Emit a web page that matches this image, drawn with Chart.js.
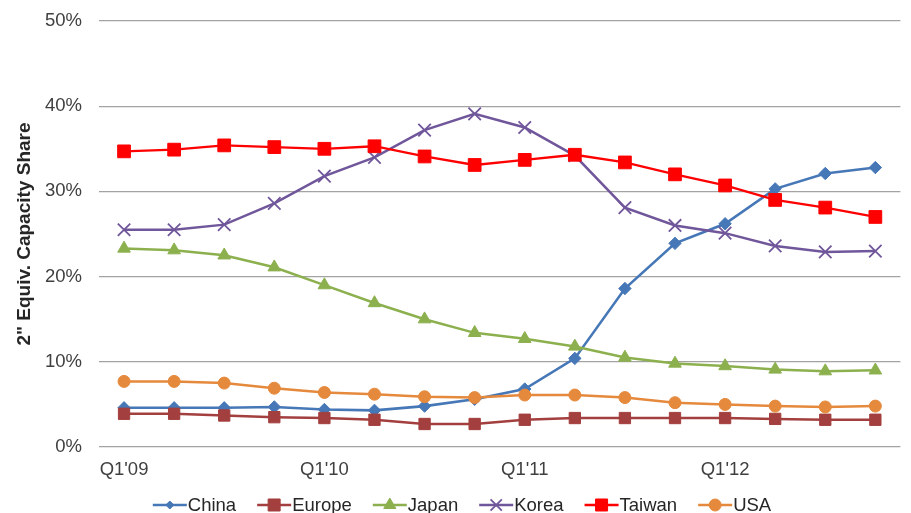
<!DOCTYPE html>
<html>
<head>
<meta charset="utf-8">
<script src="https://cdn.jsdelivr.net/npm/chart.js@4/dist/chart.umd.min.js"></script>
<style>
  html, body { margin: 0; padding: 0; background: #ffffff; }
  #wrap { width: 911px; height: 513px; position: relative; }
  canvas { display: block; }
</style>
</head>
<body>
<div id="wrap"><canvas id="c" width="911" height="513"></canvas></div>
<script>
// Quarterly share of 2" equivalent capacity by region (%)
const quarters = ["Q1'09", "Q2'09", "Q3'09", "Q4'09",
                  "Q1'10", "Q2'10", "Q3'10", "Q4'10",
                  "Q1'11", "Q2'11", "Q3'11", "Q4'11",
                  "Q1'12", "Q2'12", "Q3'12", "Q4'12"];

const china  = [4.6, 4.6, 4.6, 4.7, 4.4, 4.3, 4.8, 5.6, 6.8, 10.4, 18.6, 23.9, 26.2, 30.3, 32.1, 32.8];
const europe = [3.9, 3.9, 3.7, 3.5, 3.4, 3.2, 2.7, 2.7, 3.2, 3.4, 3.4, 3.4, 3.4, 3.3, 3.2, 3.2];
const japan  = [23.3, 23.1, 22.5, 21.1, 19.0, 16.9, 15.0, 13.4, 12.7, 11.8, 10.5, 9.8, 9.5, 9.1, 8.9, 9.0];
const korea  = [25.5, 25.5, 26.1, 28.6, 31.8, 34.0, 37.2, 39.1, 37.5, 34.2, 28.1, 26.0, 25.1, 23.6, 22.9, 23.0];
const taiwan = [34.7, 34.9, 35.4, 35.2, 35.0, 35.3, 34.1, 33.1, 33.7, 34.3, 33.4, 32.0, 30.7, 29.0, 28.1, 27.0];
const usa    = [7.7, 7.7, 7.5, 6.9, 6.4, 6.2, 5.9, 5.8, 6.1, 6.1, 5.8, 5.2, 5.0, 4.8, 4.7, 4.8];

const yTicks = [0, 10, 20, 30, 40, 50];
const yTitle = '2" Equiv. Capacity Share';

const FONT = '"Liberation Sans", Arial, Helvetica, sans-serif';

function series(label, data, color, style, radius, legendRadius, width, order) {
  return {
    label, data, order,
    borderColor: color,
    backgroundColor: color,
    borderWidth: width,
    pointStyle: style,
    pointRadius: radius,
    pointHoverRadius: radius,
    pointBackgroundColor: color,
    pointBorderColor: color,
    pointBorderWidth: style === 'crossRot' ? 1.8 : 1,
    legendRadius,
    tension: 0,
    fill: false
  };
}

// Legend drawn along the bottom: short line with the series marker, then the name
const seriesLegend = {
  id: 'seriesLegend',
  afterDraw(chart) {
    const ctx = chart.ctx;
    const lineY = 505;
    const baseY = 510.5;
    const lineLen = 34;
    const textGap = 1;
    const itemGap = 21;
    const centerX = 462;
    ctx.save();
    ctx.font = '18.5px ' + FONT;
    ctx.textBaseline = 'alphabetic';
    ctx.textAlign = 'left';
    const sets = chart.data.datasets;
    const widths = sets.map(ds => ctx.measureText(ds.label).width);
    const total = widths.reduce((a, w) => a + lineLen + textGap + w, 0) + itemGap * (sets.length - 1);
    let x = centerX - total / 2;
    sets.forEach((ds, i) => {
      ctx.strokeStyle = ds.borderColor;
      ctx.lineWidth = ds.borderWidth;
      ctx.beginPath();
      ctx.moveTo(x, lineY);
      ctx.lineTo(x + lineLen, lineY);
      ctx.stroke();
      ctx.fillStyle = ds.pointBackgroundColor;
      ctx.strokeStyle = ds.pointBorderColor;
      ctx.lineWidth = ds.pointBorderWidth;
      Chart.helpers.drawPoint(ctx, {
        pointStyle: ds.pointStyle,
        radius: ds.legendRadius,
        borderWidth: ds.pointBorderWidth,
        rotation: 0
      }, x + lineLen / 2, lineY);
      ctx.fillStyle = '#262626';
      ctx.fillText(ds.label, x + lineLen + textGap, baseY);
      x += lineLen + textGap + widths[i] + itemGap;
    });
    ctx.restore();
  }
};

new Chart(document.getElementById('c'), {
  type: 'line',
  data: {
    labels: quarters,
    datasets: [
      series('China',  china,  '#4677B6', 'rectRot',  6.2, 4,   2.6, 6),
      series('Europe', europe, '#A33F3E', 'rect',     8,   8.5, 2.5, 5),
      series('Japan',  japan,  '#8CB04E', 'triangle', 7.3, 7,   2.5, 4),
      series('Korea',  korea,  '#70569A', 'crossRot', 8.8, 8,   2.5, 3),
      series('Taiwan', taiwan, '#FF0000', 'rect',     9,   8.5, 2.3, 2),
      series('USA',    usa,    '#E5893C', 'circle',   6,   6,   2.5, 1)
    ]
  },
  options: {
    responsive: false,
    devicePixelRatio: 1,
    animation: false,
    layout: { padding: { top: 21, right: 8, left: 0, bottom: 0 } },
    plugins: {
      legend: { display: false },
      tooltip: { enabled: false }
    },
    scales: {
      x: {
        type: 'category',
        offset: true,
        grid: { display: false, drawTicks: false },
        border: { display: false },
        ticks: {
          autoSkip: false,
          maxRotation: 0,
          padding: 12,
          color: '#404040',
          font: { family: FONT, size: 18.5 },
          callback: (v, i) => (i % 4 === 0 ? quarters[i] : '')
        },
        afterFit: s => { s.height = 66; }
      },
      y: {
        min: 0,
        max: 50,
        afterBuildTicks: s => { s.ticks = yTicks.map(v => ({ value: v })); },
        grid: { color: '#a3a3a3', lineWidth: 1.3, drawTicks: false },
        border: { display: false },
        ticks: {
          padding: 17,
          color: '#404040',
          font: { family: FONT, size: 18.5 },
          callback: v => v + '%'
        },
        title: {
          display: true,
          text: yTitle,
          color: '#262626',
          font: { family: FONT, size: 19, weight: 'bold' },
          padding: { top: 13.5, bottom: 0 }
        },
        afterFit: s => {
          s.width = 99;
          s.paddingTop = 0;
          s.paddingBottom = 0;
        }
      }
    }
  },
  plugins: [seriesLegend]
});
</script>
</body>
</html>
